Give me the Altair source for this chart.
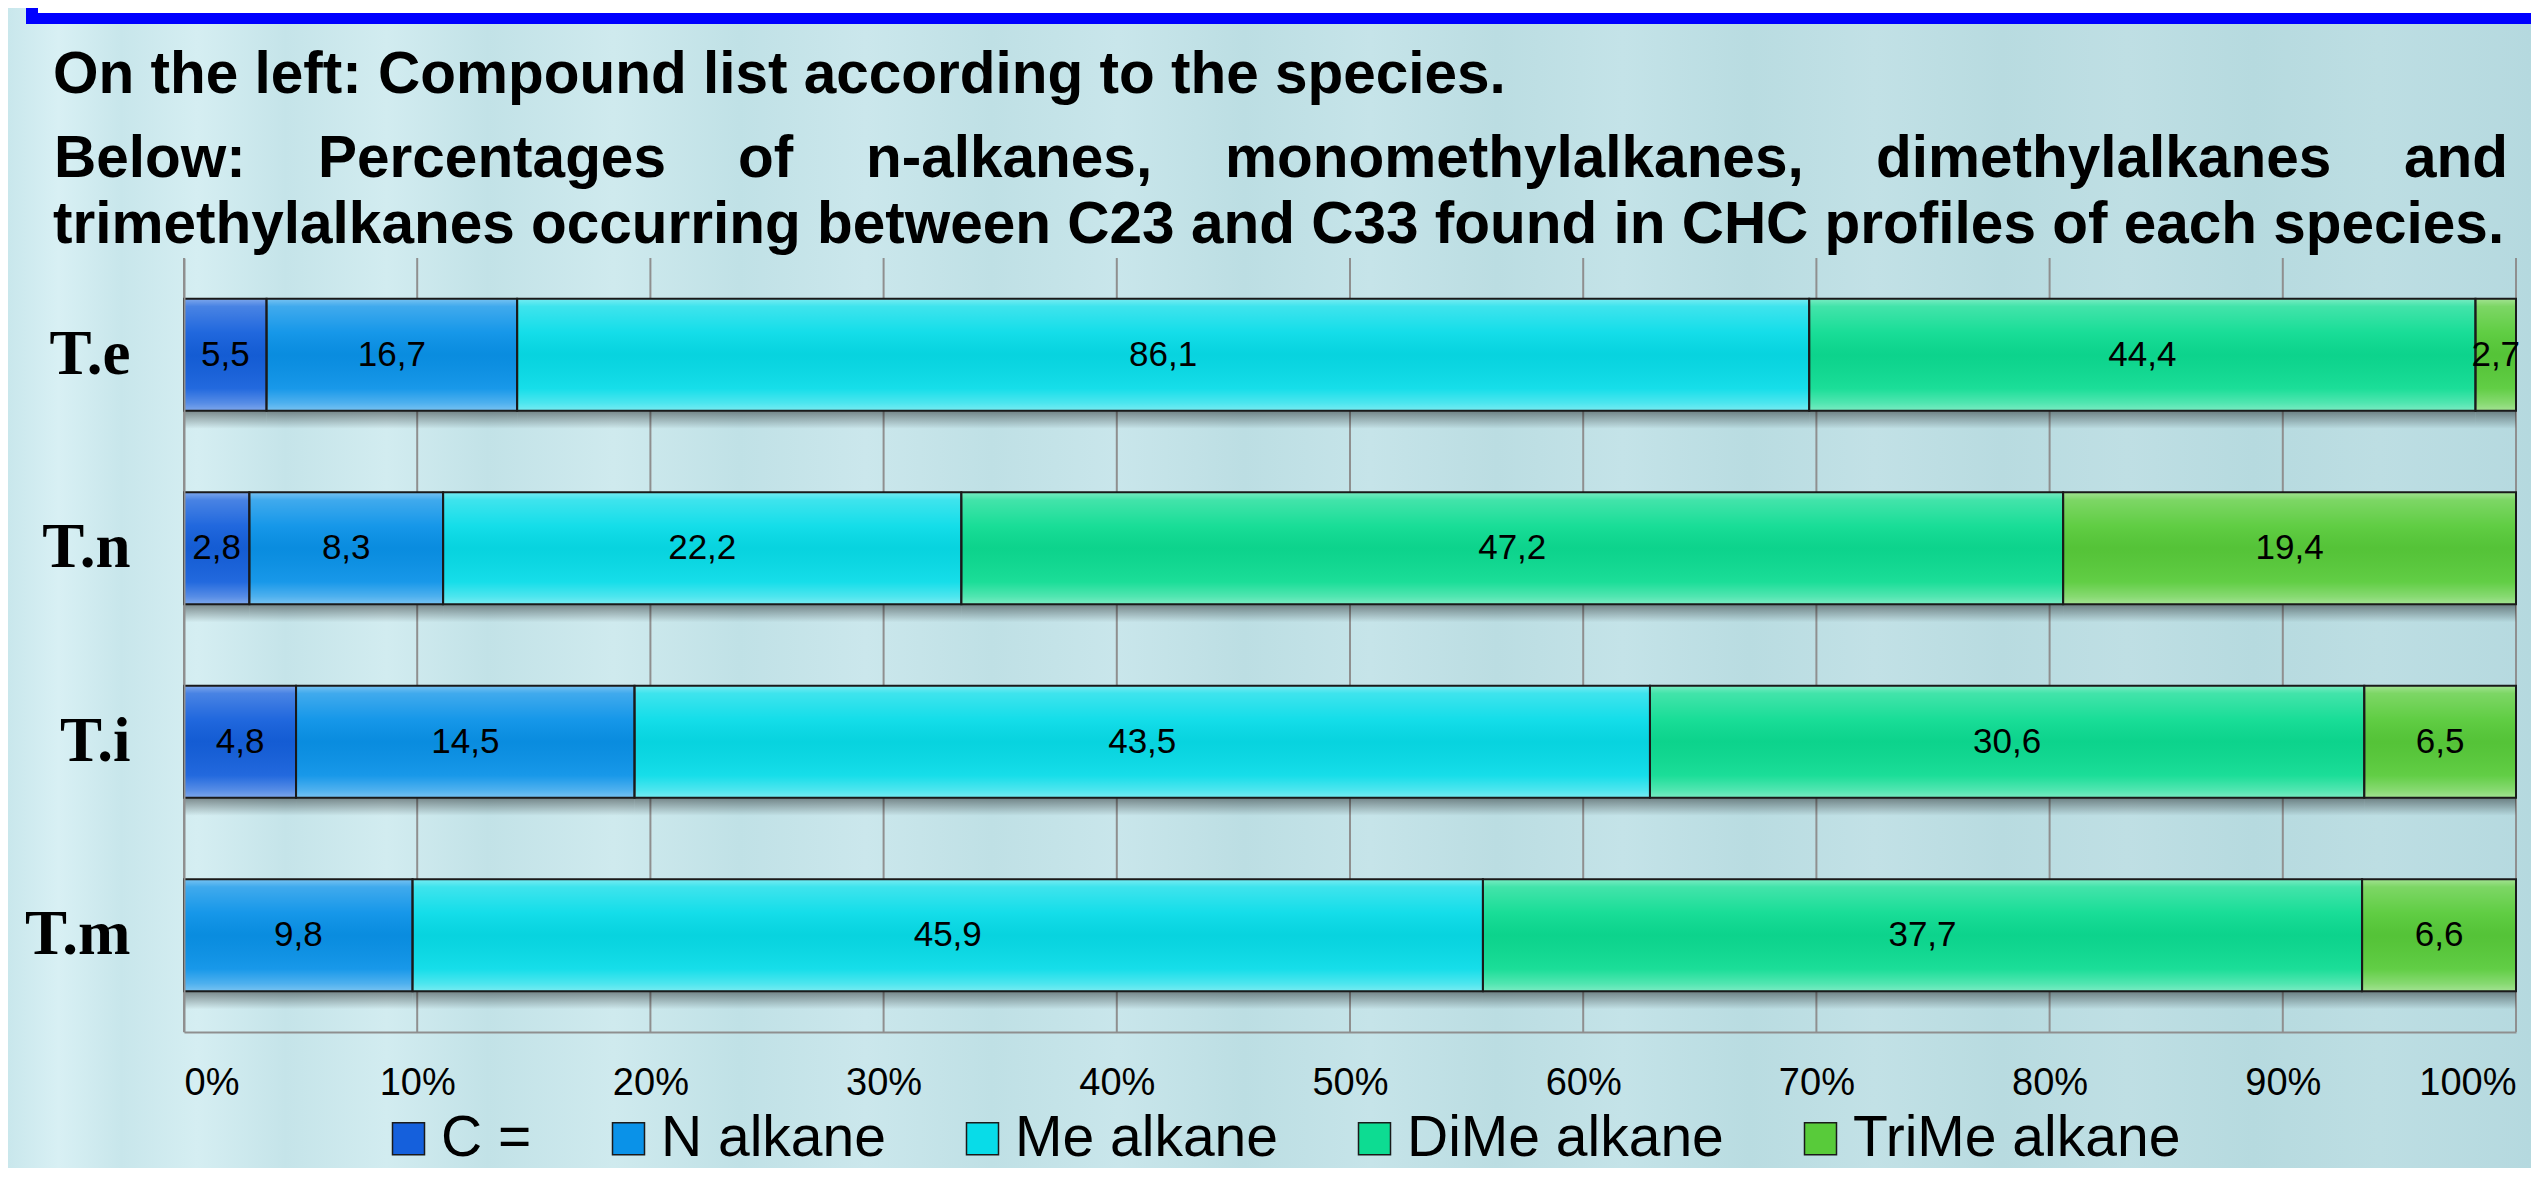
import altair as alt
import pandas as pd

# ---------------- data ----------------
species = ["T.e", "T.n", "T.i", "T.m"]
compounds = ["C =", "N alkane", "Me alkane", "DiMe alkane", "TriMe alkane"]
c_eq = [5.5, 2.8, 4.8, None]
n_alkane = [16.7, 8.3, 14.5, 9.8]
me_alkane = [86.1, 22.2, 43.5, 45.9]
dime_alkane = [44.4, 47.2, 30.6, 37.7]
trime_alkane = [2.7, 19.4, 6.5, 6.6]
x_ticks = [0, 0.1, 0.2, 0.3, 0.4, 0.5, 0.6, 0.7, 0.8, 0.9, 1.0]

title_line1 = "On the left: Compound list according to the species."
title_line2_words = ["Below:", "Percentages", "of", "n-alkanes,",
                     "monomethylalkanes,", "dimethylalkanes", "and"]
title_line3 = ("trimethylalkanes occurring between C23 and C33 found in CHC "
               "profiles of each species.")

# ---------------- styling ----------------
colors = ["#1560DC", "#0A92E8", "#08DCE8", "#0DDC92", "#58CB3A"]
W, H = 2332, 774
PAD = {"left": 176, "top": 250, "right": 15, "bottom": 136}
line2_x = [-130, 134, 554, 682, 1041, 1692, 2220]   # justified word positions

series = [c_eq, n_alkane, me_alkane, dime_alkane, trime_alkane]
rows = []
for ci, (name, vals) in enumerate(zip(compounds, series)):
    for s, v in zip(species, vals):
        if v is not None:
            rows.append({"species": s, "compound": name, "order": ci, "value": v})
df = pd.DataFrame(rows)
one = pd.DataFrame({"a": [0]})

xscale = alt.Scale(domain=[0, 1], nice=False, zero=True)
yscale = alt.Scale(paddingInner=0.42, paddingOuter=0.21)
xaxis = alt.Axis(title=None, values=x_ticks, format=".0%", labelFont="Liberation Sans",
                 labelFontSize=38, labelColor="black", ticks=False, labelPadding=32,
                 domainColor="#8f8f8f", domainWidth=2, grid=False, zindex=1)
yaxis = alt.Axis(title=None, labelFont="Liberation Serif", labelFontWeight="bold",
                 labelFontSize=63, labelColor="black", ticks=False, labelPadding=54,
                 domainColor="#8f8f8f", domainWidth=2, grid=False, zindex=1, labelAngle=0)

def grad(stops, horizontal=False):
    return alt.LinearGradient(
        gradient="linear",
        stops=[alt.GradientStop(offset=o, color=c) for o, c in stops],
        x1=0, y1=0, x2=1 if horizontal else 0, y2=0 if horizontal else 1)

bg_stops = [(0, "#c9e7ec"), (0.02, "#d8f0f4"), (0.045, "#c8e6eb"), (0.075, "#d5eef2"),
            (0.11, "#c5e4e9"), (0.15, "#d2ecf0"), (0.19, "#c2e2e7"), (0.24, "#cfeaee"),
            (0.29, "#c0e1e6"), (0.34, "#cbe7ec"), (0.39, "#bfe0e5"), (0.44, "#c9e6eb"),
            (0.49, "#bcdee3"), (0.54, "#c6e4e9"), (0.59, "#bbdde2"), (0.64, "#c4e3e8"),
            (0.69, "#b9dce1"), (0.74, "#c2e1e6"), (0.79, "#b8dbe0"), (0.84, "#bfdfe4"),
            (0.89, "#b6dadf"), (0.94, "#bddee3"), (1, "#b5d9df")]
hl_stops = [(0, "rgba(255,255,255,0.45)"), (0.07, "rgba(255,255,255,0.22)"),
            (0.3, "rgba(255,255,255,0.05)"), (0.5, "rgba(0,0,0,0.04)"),
            (0.8, "rgba(255,255,255,0.06)"), (0.93, "rgba(255,255,255,0.28)"),
            (1, "rgba(255,255,255,0.45)")]
shadow_stops = [(0, "rgba(0,0,0,0.5)"), (0.84, "rgba(0,0,0,0.42)"), (1, "rgba(0,0,0,0)")]

# ---------------- layers ----------------
background = alt.Chart(one).mark_rect(fill=grad(bg_stops, horizontal=True)).encode(
    x=alt.value(-PAD["left"]), x2=alt.value(W + PAD["right"]),
    y=alt.value(-PAD["top"]), y2=alt.value(H + PAD["bottom"]))
blue_box = alt.Chart(one).mark_rect(fill="#0000ff").encode(
    x=alt.value(-158), x2=alt.value(W + PAD["right"]),
    y=alt.value(-PAD["top"]), y2=alt.value(-234))
white_box = alt.Chart(one).mark_rect(fill="#ffffff").encode(
    x=alt.value(-146), x2=alt.value(W + PAD["right"]),
    y=alt.value(-PAD["top"]), y2=alt.value(-245))

grid = alt.Chart(pd.DataFrame({"t": x_ticks})).mark_rule(
    color="#8f8f8f", strokeWidth=2).encode(x=alt.X("t:Q", scale=xscale, axis=xaxis))

base = alt.Chart(df).transform_stack(
    stack="value", as_=["s0", "s1"], groupby=["species"], offset="normalize",
    sort=[alt.SortField("order", order="ascending")]
).transform_calculate(
    mid="(datum.s0 + datum.s1) / 2",
    label="replace(format(datum.value, '.1f'), '.', ',')")

x_enc = alt.X("s0:Q", scale=xscale, axis=xaxis)
x2_enc = alt.X2("s1:Q")
y_enc = alt.Y("species:N", sort=species, scale=yscale, axis=yaxis)

shadow = base.mark_bar(yOffset=18, fill=grad(shadow_stops)).encode(x=x_enc, x2=x2_enc, y=y_enc)

legend = alt.Legend(orient="none", legendX=196, legendY=852, direction="horizontal",
                    title=None, labelFont="Liberation Sans", labelFontSize=57,
                    labelColor="black", symbolType="square", symbolSize=1024,
                    symbolStrokeColor="#1a1a1a", symbolStrokeWidth=1.5, symbolOpacity=1,
                    labelOffset=4, columnPadding=68, labelLimit=1000, padding=0)
bars = base.mark_bar(strokeWidth=0, opacity=1).encode(
    x=x_enc, x2=x2_enc, y=y_enc,
    color=alt.Color("compound:N", scale=alt.Scale(domain=compounds, range=colors),
                    legend=legend))
overlay = base.mark_bar(fill=grad(hl_stops), stroke="#1a1a1a", strokeWidth=2).encode(
    x=x_enc, x2=x2_enc, y=y_enc)
labels = base.mark_text(font="Liberation Sans", fontSize=35, color="black").encode(
    x=alt.X("mid:Q", scale=xscale, axis=xaxis), y=y_enc, text="label:N")

title_style = dict(font="Liberation Sans", fontWeight="bold", fontSize=58.5,
                   color="black", align="left", baseline="alphabetic")
titles = [alt.Chart(one).mark_text(**title_style).encode(
    x=alt.value(-131), y=alt.value(-165), text=alt.value(title_line1))]
for word, px in zip(title_line2_words, line2_x):
    titles.append(alt.Chart(one).mark_text(**title_style).encode(
        x=alt.value(px), y=alt.value(-81), text=alt.value(word)))
titles.append(alt.Chart(one).mark_text(**title_style).encode(
    x=alt.value(-131), y=alt.value(-15), text=alt.value(title_line3)))

chart = alt.layer(background, blue_box, white_box, grid, shadow, bars, overlay, labels,
                  *titles).properties(
    width=W, height=H, padding=PAD, autosize=alt.AutoSizeParams(type="none"),
    background="#c6e4ea"
).configure_view(strokeWidth=0)

chart.save("out.html", embed_options={"renderer": "svg", "actions": False})
